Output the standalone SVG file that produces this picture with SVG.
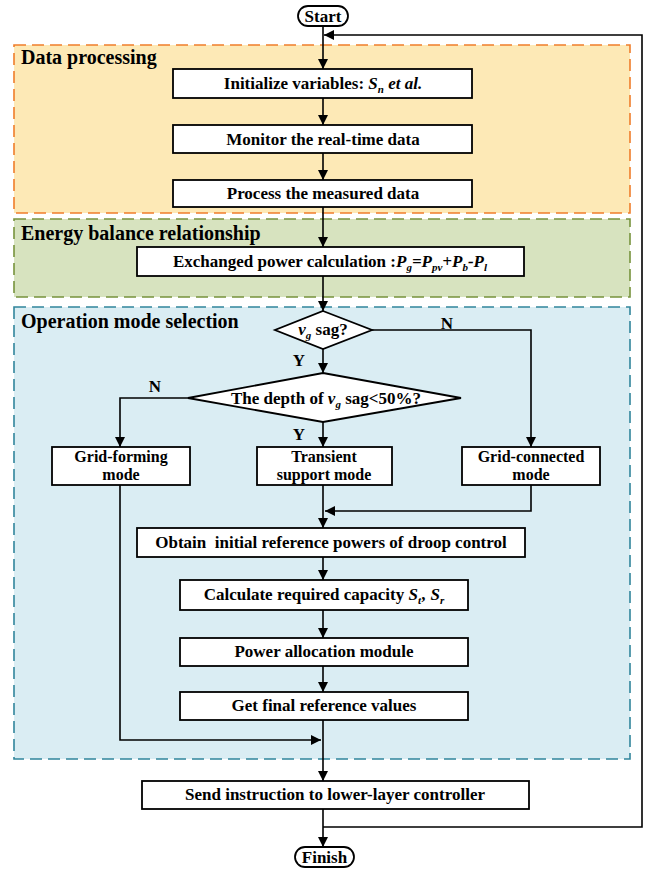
<svg xmlns="http://www.w3.org/2000/svg" width="646" height="870" viewBox="0 0 646 870">
<defs>
<style>
.t{font-family:"Liberation Serif","Times New Roman",serif;font-weight:bold;font-size:17px;fill:#000;text-anchor:middle}
.s{font-size:16px}
.h{font-family:"Liberation Serif","Times New Roman",serif;font-weight:bold;font-size:20px;fill:#000}
.b{fill:#fff;stroke:#000;stroke-width:1.8}
.c{fill:none;stroke:#000;stroke-width:1.6}
.i{font-style:italic}
</style>
<marker id="a" viewBox="0 0 10 10" refX="10" refY="5" markerWidth="10" markerHeight="10" markerUnits="userSpaceOnUse" orient="auto">
<path d="M0,0 L10,5 L0,10 z" fill="#000"/>
</marker>
</defs>
<rect width="646" height="870" fill="#fff"/>

<g id="zone-data">
<rect x="14" y="45" width="616" height="168" fill="#fde9b6" stroke="#ef7d2b" stroke-width="1.6" stroke-dasharray="12 6"/>
<text class="h" x="21" y="64">Data processing</text>
</g>
<g id="zone-energy">
<rect x="14" y="219" width="616" height="78" fill="#d7e3bf" stroke="#77933c" stroke-width="1.6" stroke-dasharray="12 6"/>
<text class="h" x="21" y="240">Energy balance relationship</text>
</g>
<g id="zone-mode">
<rect x="14" y="307" width="616" height="452" fill="#daedf3" stroke="#31859c" stroke-width="1.6" stroke-dasharray="12 6"/>
<text class="h" x="21" y="328">Operation mode selection</text>
</g>

<g id="connectors">
<line class="c" x1="323" y1="26" x2="323" y2="69" marker-end="url(#a)"/>
<polyline class="c" points="323,827 642,827 642,35 324,35" marker-end="url(#a)"/>
<line class="c" x1="323" y1="98" x2="323" y2="125" marker-end="url(#a)"/>
<line class="c" x1="323" y1="153" x2="323" y2="180" marker-end="url(#a)"/>
<line class="c" x1="323" y1="207" x2="323" y2="247" marker-end="url(#a)"/>
<line class="c" x1="323" y1="276" x2="323" y2="311" marker-end="url(#a)"/>
<line class="c" x1="323" y1="349" x2="323" y2="373" marker-end="url(#a)"/>
<polyline class="c" points="372,330 531,330 531,447" marker-end="url(#a)"/>
<polyline class="c" points="188,398 120,398 120,447" marker-end="url(#a)"/>
<line class="c" x1="323" y1="422" x2="323" y2="447" marker-end="url(#a)"/>
<line class="c" x1="323" y1="485" x2="323" y2="528" marker-end="url(#a)"/>
<polyline class="c" points="531,485 531,511 325,511" marker-end="url(#a)"/>
<line class="c" x1="323" y1="557" x2="323" y2="580" marker-end="url(#a)"/>
<line class="c" x1="323" y1="610" x2="323" y2="638" marker-end="url(#a)"/>
<line class="c" x1="323" y1="666" x2="323" y2="692" marker-end="url(#a)"/>
<line class="c" x1="323" y1="720" x2="323" y2="781" marker-end="url(#a)"/>
<polyline class="c" points="120,485 120,740 321,740" marker-end="url(#a)"/>
<line class="c" x1="323" y1="809" x2="323" y2="847" marker-end="url(#a)"/>
<text class="t" x="447" y="329">N</text>
<text class="t" x="299" y="366">Y</text>
<text class="t" x="155" y="392">N</text>
<text class="t" x="299" y="440">Y</text>
</g>

<g id="start">
<rect class="b" x="298" y="6" width="50" height="20" rx="10"/>
<text class="t" x="323" y="21.5">Start</text>
</g>
<g id="init">
<rect class="b" x="173" y="69" width="299" height="29"/>
<text class="t" x="323" y="89">Initialize variables: <tspan class="i">S</tspan><tspan class="i" font-size="11" dy="4">n</tspan><tspan class="i" dy="-4"> et al.</tspan></text>
</g>
<g id="monitor">
<rect class="b" x="173" y="125" width="299" height="28"/>
<text class="t" x="323" y="145">Monitor the real-time data</text>
</g>
<g id="process">
<rect class="b" x="173" y="180" width="299" height="27"/>
<text class="t" x="323" y="199">Process the measured data</text>
</g>
<g id="exchange">
<rect class="b" x="137" y="247" width="387" height="29"/>
<text class="t" x="330" y="267">Exchanged power calculation :<tspan class="i">P</tspan><tspan class="i" font-size="11" dy="4">g</tspan><tspan class="i" dy="-4">=P</tspan><tspan class="i" font-size="11" dy="4">pv</tspan><tspan class="i" dy="-4">+P</tspan><tspan class="i" font-size="11" dy="4">b</tspan><tspan class="i" dy="-4">-P</tspan><tspan class="i" font-size="11" dy="4">l</tspan></text>
</g>
<g id="sag">
<polygon class="b" points="323,311 372,330 323,349 275,330"/>
<text class="t" x="323" y="335"><tspan class="i">v</tspan><tspan class="i" font-size="11" dy="4">g</tspan><tspan dy="-4"> sag?</tspan></text>
</g>
<g id="depth">
<polygon class="b" points="323,373 461,398 323,422 188,398"/>
<text class="t" x="326" y="404">The depth of <tspan class="i">v</tspan><tspan class="i" font-size="11" dy="4">g</tspan><tspan dy="-4"> sag&lt;50%?</tspan></text>
</g>
<g id="gridforming">
<rect class="b" x="52" y="447" width="138" height="38"/>
<text class="t s" x="121" y="462">Grid-forming</text>
<text class="t s" x="121" y="480">mode</text>
</g>
<g id="transient">
<rect class="b" x="257" y="447" width="135" height="38"/>
<text class="t s" x="324" y="462">Transient</text>
<text class="t s" x="324" y="480">support mode</text>
</g>
<g id="gridconnected">
<rect class="b" x="462" y="447" width="138" height="38"/>
<text class="t s" x="531" y="462">Grid-connected</text>
<text class="t s" x="531" y="480">mode</text>
</g>
<g id="obtain">
<rect class="b" x="137" y="528" width="388" height="29"/>
<text class="t" x="331" y="548" xml:space="preserve">Obtain  initial reference powers of droop control</text>
</g>
<g id="calc">
<rect class="b" x="180" y="580" width="288" height="30"/>
<text class="t" x="324" y="600">Calculate required capacity <tspan class="i">S</tspan><tspan class="i" font-size="11" dy="4">t</tspan><tspan class="i" dx="1" dy="-4">, S</tspan><tspan class="i" font-size="11" dy="4">r</tspan></text>
</g>
<g id="alloc">
<rect class="b" x="180" y="638" width="288" height="28"/>
<text class="t" x="324" y="657">Power allocation module</text>
</g>
<g id="final">
<rect class="b" x="180" y="692" width="288" height="28"/>
<text class="t" x="324" y="711">Get final reference values</text>
</g>
<g id="send">
<rect class="b" x="142" y="781" width="387" height="28"/>
<text class="t" x="335" y="800">Send instruction to lower-layer controller</text>
</g>
<g id="finish">
<rect class="b" x="295" y="847" width="59" height="20" rx="10"/>
<text class="t" x="324.5" y="862.5">Finish</text>
</g>
</svg>
